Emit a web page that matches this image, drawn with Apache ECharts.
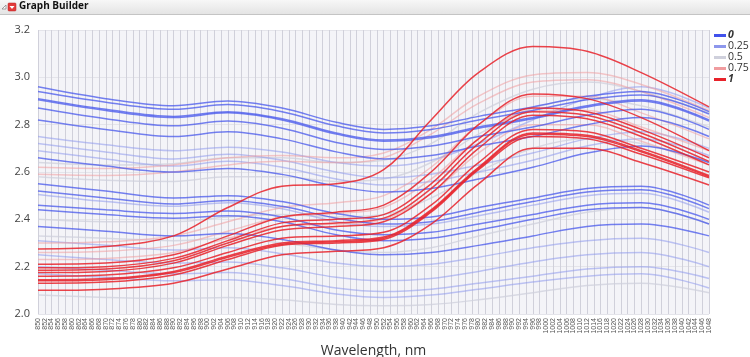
<!DOCTYPE html>
<html>
<head>
<meta charset="utf-8">
<script src="https://cdn.jsdelivr.net/npm/echarts@6/dist/echarts.min.js"></script>
<style>
  html, body { margin: 0; padding: 0; background: #fff; }
  #main { width: 750px; height: 357px; }
</style>
</head>
<body>
<div id="main"></div>
<script>
// wavelength categories on the x axis (850..1048 nm, every 2 nm)
var wavelengths = [];
for (var w = 850; w <= 1048; w += 2) wavelengths.push(String(w));

var waves = [850, 870, 890, 906, 922, 938, 952, 966, 980, 996, 1012, 1028, 1048];

// spectra grouped by their colour level
var level0 = [
  [2.96, 2.91, 2.88, 2.90, 2.87, 2.81, 2.78, 2.795, 2.835, 2.875, 2.92, 2.94, 2.855],
  [2.94, 2.895, 2.865, 2.885, 2.855, 2.795, 2.765, 2.78, 2.82, 2.86, 2.905, 2.925, 2.845],
  [2.91, 2.865, 2.835, 2.855, 2.825, 2.765, 2.735, 2.75, 2.79, 2.83, 2.88, 2.905, 2.82],
  [2.905, 2.86, 2.83, 2.85, 2.82, 2.76, 2.73, 2.745, 2.785, 2.825, 2.875, 2.90, 2.815],
  [2.87, 2.825, 2.795, 2.815, 2.785, 2.725, 2.695, 2.71, 2.75, 2.79, 2.84, 2.865, 2.78],
  [2.82, 2.78, 2.75, 2.77, 2.74, 2.685, 2.655, 2.67, 2.71, 2.75, 2.80, 2.83, 2.75],
  [2.66, 2.625, 2.60, 2.615, 2.59, 2.54, 2.515, 2.53, 2.57, 2.62, 2.68, 2.71, 2.64],
  [2.55, 2.52, 2.49, 2.50, 2.475, 2.425, 2.40, 2.41, 2.45, 2.49, 2.53, 2.54, 2.46],
  [2.52, 2.49, 2.465, 2.48, 2.455, 2.405, 2.38, 2.39, 2.43, 2.475, 2.515, 2.525, 2.445],
  [2.46, 2.44, 2.425, 2.435, 2.41, 2.355, 2.335, 2.345, 2.38, 2.42, 2.46, 2.47, 2.40],
  [2.44, 2.42, 2.405, 2.415, 2.39, 2.335, 2.31, 2.32, 2.355, 2.40, 2.44, 2.45, 2.38],
  [2.37, 2.35, 2.33, 2.34, 2.315, 2.27, 2.25, 2.26, 2.29, 2.33, 2.37, 2.38, 2.33]
];
var level25 = [
  [2.75, 2.715, 2.69, 2.705, 2.685, 2.64, 2.625, 2.65, 2.72, 2.82, 2.91, 2.96, 2.87],
  [2.72, 2.685, 2.655, 2.675, 2.65, 2.60, 2.575, 2.59, 2.63, 2.68, 2.74, 2.77, 2.70],
  [2.69, 2.655, 2.625, 2.645, 2.62, 2.57, 2.545, 2.56, 2.60, 2.65, 2.71, 2.74, 2.67],
  [2.505, 2.475, 2.455, 2.47, 2.445, 2.39, 2.37, 2.38, 2.415, 2.46, 2.50, 2.51, 2.43],
  [2.31, 2.29, 2.27, 2.28, 2.255, 2.215, 2.20, 2.21, 2.24, 2.28, 2.31, 2.32, 2.26],
  [2.25, 2.23, 2.215, 2.22, 2.195, 2.155, 2.14, 2.15, 2.18, 2.22, 2.25, 2.26, 2.20],
  [2.20, 2.185, 2.17, 2.175, 2.15, 2.11, 2.095, 2.105, 2.13, 2.16, 2.19, 2.20, 2.15],
  [2.17, 2.155, 2.14, 2.145, 2.12, 2.085, 2.07, 2.08, 2.105, 2.135, 2.16, 2.17, 2.11]
];
var level50 = [
  [2.64, 2.63, 2.635, 2.66, 2.66, 2.64, 2.65, 2.72, 2.85, 2.95, 2.98, 2.94, 2.85],
  [2.58, 2.565, 2.56, 2.58, 2.58, 2.56, 2.57, 2.64, 2.76, 2.87, 2.91, 2.88, 2.79],
  [2.40, 2.39, 2.39, 2.41, 2.42, 2.41, 2.42, 2.49, 2.60, 2.70, 2.74, 2.72, 2.64],
  [2.33, 2.32, 2.31, 2.32, 2.30, 2.27, 2.26, 2.28, 2.33, 2.38, 2.43, 2.45, 2.38],
  [2.08, 2.07, 2.065, 2.07, 2.06, 2.04, 2.035, 2.04, 2.06, 2.09, 2.12, 2.13, 2.09]
];
var level75 = [
  [2.62, 2.615, 2.63, 2.66, 2.67, 2.66, 2.68, 2.78, 2.92, 3.01, 3.02, 2.97, 2.86],
  [2.59, 2.585, 2.60, 2.63, 2.645, 2.64, 2.66, 2.76, 2.89, 2.98, 2.99, 2.94, 2.83],
  [2.30, 2.305, 2.33, 2.39, 2.45, 2.47, 2.50, 2.62, 2.80, 2.92, 2.92, 2.85, 2.74],
  [2.26, 2.265, 2.29, 2.35, 2.41, 2.425, 2.45, 2.57, 2.74, 2.86, 2.86, 2.79, 2.69],
  [2.23, 2.235, 2.26, 2.32, 2.37, 2.38, 2.40, 2.51, 2.68, 2.80, 2.80, 2.73, 2.63]
];
var level1 = [
  [2.275, 2.285, 2.33, 2.45, 2.54, 2.55, 2.61, 2.82, 3.02, 3.13, 3.11, 3.02, 2.875],
  [2.21, 2.215, 2.25, 2.33, 2.41, 2.43, 2.46, 2.60, 2.80, 2.93, 2.91, 2.83, 2.69],
  [2.195, 2.20, 2.235, 2.31, 2.385, 2.40, 2.42, 2.55, 2.74, 2.87, 2.855, 2.78, 2.66],
  [2.185, 2.19, 2.225, 2.30, 2.37, 2.385, 2.405, 2.53, 2.72, 2.855, 2.84, 2.765, 2.645],
  [2.175, 2.18, 2.215, 2.29, 2.355, 2.37, 2.39, 2.51, 2.70, 2.84, 2.825, 2.75, 2.63],
  [2.16, 2.165, 2.195, 2.26, 2.32, 2.33, 2.345, 2.46, 2.64, 2.78, 2.77, 2.70, 2.60],
  [2.145, 2.15, 2.18, 2.245, 2.30, 2.31, 2.325, 2.44, 2.62, 2.765, 2.755, 2.69, 2.585],
  [2.14, 2.145, 2.175, 2.24, 2.295, 2.305, 2.32, 2.435, 2.615, 2.76, 2.75, 2.685, 2.58],
  [2.13, 2.135, 2.165, 2.23, 2.29, 2.30, 2.315, 2.43, 2.61, 2.75, 2.74, 2.675, 2.575],
  [2.10, 2.105, 2.13, 2.19, 2.25, 2.265, 2.28, 2.38, 2.55, 2.70, 2.70, 2.64, 2.545]
];

function makeSeries(name, rows, color, opacity) {
  return rows.map(function (r) {
    return {
      name: name,
      type: 'line',
      data: r.map(function (v, i) { return [String(waves[i]), v]; }),
      smooth: 0.35,
      symbol: 'none',
      silent: true,
      itemStyle: { color: color },
      lineStyle: { color: color, width: 1.5, opacity: opacity }
    };
  });
}

var series = [].concat(
  makeSeries('0.5', level50, '#cfd0dc', 0.75),
  makeSeries('0.25', level25, '#8d97ec', 0.55),
  makeSeries('0.75', level75, '#f09c9f', 0.55),
  makeSeries('0', level0, '#4152ec', 0.72),
  makeSeries('1', level1, '#e8222a', 0.85)
);

var chart = echarts.init(document.getElementById('main'));

var option = {
  backgroundColor: '#ffffff',
  animation: false,
  graphic: [
    { type: 'rect', shape: { x: 0, y: 0, width: 750, height: 14 },
      style: { fill: new echarts.graphic.LinearGradient(0, 0, 0, 1, [
        { offset: 0, color: '#f7f7f7' }, { offset: 1, color: '#e4e4e4' }]) } },
    { type: 'line', shape: { x1: 0, y1: 14.5, x2: 750, y2: 14.5 }, style: { stroke: '#c4c4c4', lineWidth: 1 } },
    { type: 'polygon', shape: { points: [[2, 9], [6, 5], [6, 9]] }, style: { fill: '#fff', stroke: '#888', lineWidth: 0.8 } },
    { type: 'rect', shape: { x: 8, y: 3, width: 8, height: 8, r: 1 }, style: { fill: '#e23b3b', stroke: '#b22', lineWidth: 0.5 } },
    { type: 'polygon', shape: { points: [[9.5, 6], [14.5, 6], [12, 9]] }, style: { fill: '#fff' } },
    { type: 'text', left: 19, top: 1, style: { text: 'Graph Builder', font: 'bold 10px "Open Sans", sans-serif', fill: '#111' } }
  ],
  legend: {
    orient: 'vertical',
    left: 714,
    top: 30,
    padding: 0,
    itemWidth: 12,
    itemHeight: 3,
    itemGap: 0,
    icon: 'rect',
    textStyle: { fontSize: 10.5, color: '#333', fontFamily: 'Open Sans', padding: [0, 0, 0, -3] },
    data: [
      { name: '0', textStyle: { fontWeight: 'bold', fontStyle: 'italic' } },
      { name: '0.25' },
      { name: '0.5' },
      { name: '0.75' },
      { name: '1', textStyle: { fontWeight: 'bold', fontStyle: 'italic' } }
    ]
  },
  grid: {
    left: 38, right: 41, top: 30, bottom: 43,
    outerBoundsMode: 'none',
    show: true, backgroundColor: '#f4f4f8', borderWidth: 0
  },
  xAxis: {
    type: 'category',
    data: wavelengths,
    boundaryGap: false,
    name: 'Wavelength, nm',
    nameLocation: 'middle',
    nameGap: 30,
    nameTextStyle: { fontSize: 14, color: '#333', fontFamily: 'Open Sans' },
    axisLine: { show: false },
    axisTick: { show: false },
    axisLabel: { interval: 0, rotate: 90, fontSize: 7, color: '#555', margin: 4, fontFamily: 'Liberation Sans' },
    splitLine: { show: true, interval: 0, lineStyle: { color: '#d0d0da', width: 1 } }
  },
  yAxis: {
    type: 'value',
    min: 2.0,
    max: 3.2,
    interval: 0.2,
    axisLine: { show: false },
    axisTick: { show: false },
    axisLabel: { fontSize: 11, color: '#444', margin: 8, fontFamily: 'Open Sans',
      formatter: function (v) { return v.toFixed(1); } },
    splitLine: { show: true, lineStyle: { color: '#e4e4ea', width: 1 } }
  },
  series: series
};

chart.setOption(option);
</script>
</body>
</html>
